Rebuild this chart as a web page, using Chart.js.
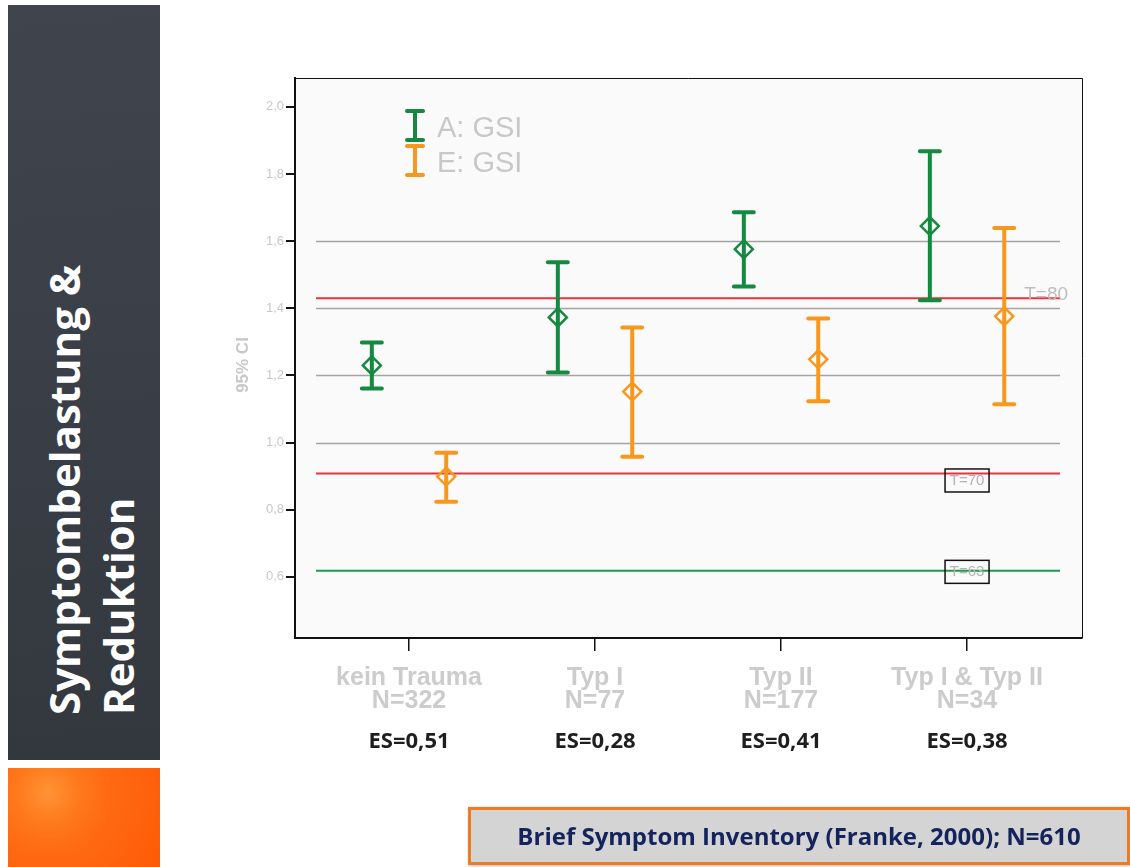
<!DOCTYPE html>
<html>
<head>
<meta charset="utf-8">
<script src="https://cdn.jsdelivr.net/npm/chart.js@4/dist/chart.umd.min.js"></script>
<style>
  body { margin: 0; background: #fff; width: 1130px; height: 867px; overflow: hidden; position: relative; }
  #c { position: absolute; left: 0; top: 0; }
  .side { position: absolute; left: 8px; top: 5px; width: 152px; height: 755px;
    background: linear-gradient(175deg, #40454d 0%, #3a3f47 50%, #33383f 100%); }
  .side-low { position: absolute; left: 8px; top: 768px; width: 152px; height: 99px;
    background: radial-gradient(circle at 40px 25px, #ff9436 0, #ff7a1c 30px, #ff6a12 60px, #ff5a06 100%); }
  .side-title { position: absolute; left: 91px; top: 490px; width: 450px;
    transform: translate(-50%, -50%) rotate(-90deg);
    font-family: "Open Sans", sans-serif; font-weight: 700; font-size: 42px; line-height: 54px;
    color: #fff; white-space: nowrap; text-align: left; }
  .source { position: absolute; left: 468px; top: 807px; width: 656px; height: 52px;
    border: 3px solid #f07a22; background: #d4d4d4; box-shadow: 1px 1px 3px rgba(0,0,0,0.3);
    font-family: "Open Sans", sans-serif; font-weight: 700; font-size: 24px; color: #14235c;
    text-align: center; line-height: 52px; }
</style>
</head>
<body>
<canvas id="c" width="1130" height="867"></canvas>
<div class="side"></div>
<div class="side-low"></div>
<div class="side-title">Symptombelastung &amp;<br>Reduktion</div>
<div class="source">Brief Symptom Inventory (Franke, 2000); N=610</div>
<script>
const categories = ['kein Trauma', 'Typ I', 'Typ II', 'Typ I & Typ II'];
const groupSizes = ['N=322', 'N=77', 'N=177', 'N=34'];
const effectSizes = ['ES=0,51', 'ES=0,28', 'ES=0,41', 'ES=0,38'];

// A: GSI (green)
const aMean  = [1.230, 1.373, 1.576, 1.645];
const aLower = [1.161, 1.209, 1.465, 1.424];
const aUpper = [1.298, 1.537, 1.686, 1.868];
// E: GSI (orange)
const eMean  = [0.899, 1.152, 1.248, 1.376];
const eLower = [0.824, 0.958, 1.123, 1.114];
const eUpper = [0.970, 1.343, 1.370, 1.639];

const yTicks = [0.6, 0.8, 1.0, 1.2, 1.4, 1.6, 1.8, 2.0];
const gridValues = [1.0, 1.2, 1.4, 1.6];
const refValues = [1.43, 0.908, 0.618];
const refLabels = ['T=80', 'T=70', 'T=63'];

const GREEN = '#138a3f';
const ORANGE = '#f7981d';
const refColors = ['#e8323c', '#e8323c', '#1f9a4b'];
const GRAY_TEXT = '#c8c8c8';

const dodge = 0.2;

const decorations = {
  id: 'decorations',
  beforeDraw(chart) {
    const { ctx, chartArea: a } = chart;
    ctx.save();
    ctx.fillStyle = '#fafafa';
    ctx.fillRect(a.left, a.top, a.right - a.left, a.bottom - a.top);
    ctx.restore();
  },
  beforeDatasetsDraw(chart) {
    const { ctx, scales: { x, y } } = chart;
    const x0 = x.getPixelForValue(0.5), x1 = x.getPixelForValue(4.5);
    ctx.save();
    ctx.lineWidth = 1.3;
    ctx.strokeStyle = '#a4a4a4';
    gridValues.forEach(v => {
      const py = Math.round(y.getPixelForValue(v)) + 0.5;
      ctx.beginPath(); ctx.moveTo(x0, py); ctx.lineTo(x1, py); ctx.stroke();
    });
    ctx.lineWidth = 2;
    refValues.forEach((v, i) => {
      const py = y.getPixelForValue(v);
      ctx.strokeStyle = refColors[i];
      ctx.beginPath(); ctx.moveTo(x0, py); ctx.lineTo(x1, py); ctx.stroke();
    });

    // error bars
    chart.data.datasets.forEach((ds, di) => {
      const meta = chart.getDatasetMeta(di);
      ctx.strokeStyle = ds.borderColor;
      ctx.lineWidth = 4;
      ctx.lineCap = 'round';
      meta.data.forEach((pt, j) => {
        const lo = y.getPixelForValue(ds.lower[j]);
        const hi = y.getPixelForValue(ds.upper[j]);
        ctx.beginPath();
        ctx.moveTo(pt.x, lo); ctx.lineTo(pt.x, hi);
        ctx.moveTo(pt.x - 10, lo); ctx.lineTo(pt.x + 10, lo);
        ctx.moveTo(pt.x - 10, hi); ctx.lineTo(pt.x + 10, hi);
        ctx.stroke();
      });
    });
    ctx.restore();
  },
  afterDraw(chart) {
    const { ctx, chartArea: a, scales: { x, y } } = chart;
    ctx.save();
    // frame top/right
    ctx.strokeStyle = '#111';
    ctx.lineWidth = 1;
    ctx.beginPath();
    ctx.moveTo(a.left, a.top + 0.5); ctx.lineTo(a.right + 0.5, a.top + 0.5); ctx.lineTo(a.right + 0.5, a.bottom);
    ctx.stroke();

    // reference labels
    ctx.fillStyle = '#bdbdbd';
    ctx.textAlign = 'center';
    ctx.textBaseline = 'middle';
    ctx.font = '19px "Liberation Sans", Arial, sans-serif';
    ctx.fillText(refLabels[0], x.getPixelForValue(4.425), y.getPixelForValue(refValues[0]) - 3);
    ctx.font = '15px "Liberation Sans", Arial, sans-serif';
    [1, 2].forEach(i => {
      const cx = x.getPixelForValue(4);
      const cy = y.getPixelForValue(refValues[i]) + (i === 1 ? 7 : 1);
      ctx.fillStyle = '#b4b4b4';
      ctx.fillText(refLabels[i], cx, cy);
      ctx.strokeStyle = '#111';
      ctx.lineWidth = 1.5;
      ctx.strokeRect(cx - 22, cy - 11.5, 44, 23);
    });

    // legend
    const legend = [['A: GSI', GREEN, 111, 140], ['E: GSI', ORANGE, 146, 175]];
    ctx.lineCap = 'round';
    ctx.lineWidth = 4;
    ctx.textAlign = 'left';
    ctx.font = '29px "Liberation Sans", Arial, sans-serif';
    legend.forEach(([label, color, t, b]) => {
      ctx.strokeStyle = color;
      ctx.beginPath();
      ctx.moveTo(415, t); ctx.lineTo(415, b);
      ctx.moveTo(407, t); ctx.lineTo(423, t);
      ctx.moveTo(407, b); ctx.lineTo(423, b);
      ctx.stroke();
      ctx.fillStyle = GRAY_TEXT;
      ctx.fillText(label, 437, (t + b) / 2 + 3);
    });

    // y title
    ctx.save();
    ctx.translate(243, 365);
    ctx.rotate(-Math.PI / 2);
    ctx.textAlign = 'center';
    ctx.font = 'bold 17px "Liberation Sans", Arial, sans-serif';
    ctx.fillStyle = GRAY_TEXT;
    ctx.fillText('95% CI', 0, 0);
    ctx.restore();

    // effect sizes
    ctx.textAlign = 'center';
    ctx.font = 'bold 22px "Open Sans", sans-serif';
    ctx.fillStyle = '#1e1e1e';
    effectSizes.forEach((s, i) => {
      ctx.fillText(s, x.getPixelForValue(i + 1), 742);
    });
    ctx.restore();
  }
};

new Chart(document.getElementById('c'), {
  type: 'scatter',
  data: {
    datasets: [{
      label: 'A: GSI',
      data: aMean.map((v, i) => ({ x: i + 1 - dodge, y: v })),
      lower: aLower,
      upper: aUpper,
      borderColor: GREEN,
      backgroundColor: 'rgba(0,0,0,0)',
      pointStyle: 'rectRot',
      pointRadius: 9,
      pointBorderWidth: 2.5
    }, {
      label: 'E: GSI',
      data: eMean.map((v, i) => ({ x: i + 1 + dodge, y: v })),
      lower: eLower,
      upper: eUpper,
      borderColor: ORANGE,
      backgroundColor: 'rgba(0,0,0,0)',
      pointStyle: 'rectRot',
      pointRadius: 9,
      pointBorderWidth: 2.5
    }]
  },
  options: {
    responsive: false,
    animation: false,
    layout: { padding: { left: 235, right: 48, top: 78, bottom: 99 } },
    plugins: { legend: { display: false }, tooltip: { enabled: false } },
    scales: {
      x: {
        type: 'linear',
        min: 0.387,
        max: 4.618,
        afterBuildTicks: s => { s.ticks = categories.map((c, i) => ({ value: i + 1 })); },
        afterFit: s => { s.height = 130; },
        grid: { drawOnChartArea: false, color: '#111', tickLength: 13, lineWidth: 1.5 },
        border: { color: '#111', width: 2 },
        ticks: {
          autoSkip: false,
          maxRotation: 0,
          padding: 16,
          color: '#cccccc',
          font: { family: '"Liberation Sans", Arial, sans-serif', size: 25, weight: 'bold', lineHeight: 0.92 },
          callback: v => [categories[v - 1], groupSizes[v - 1]]
        }
      },
      y: {
        min: 0.418,
        max: 2.086,
        afterBuildTicks: s => { s.ticks = yTicks.map(v => ({ value: v })); },
        afterFit: s => { s.width = 60; },
        grid: { drawOnChartArea: false, color: '#111', tickLength: 9, lineWidth: 2 },
        border: { color: '#111', width: 2 },
        ticks: {
          padding: 2,
          color: GRAY_TEXT,
          font: { family: '"Liberation Sans", Arial, sans-serif', size: 13 },
          callback: v => v.toFixed(1).replace('.', ',')
        }
      }
    }
  },
  plugins: [decorations]
});
</script>
</body>
</html>
